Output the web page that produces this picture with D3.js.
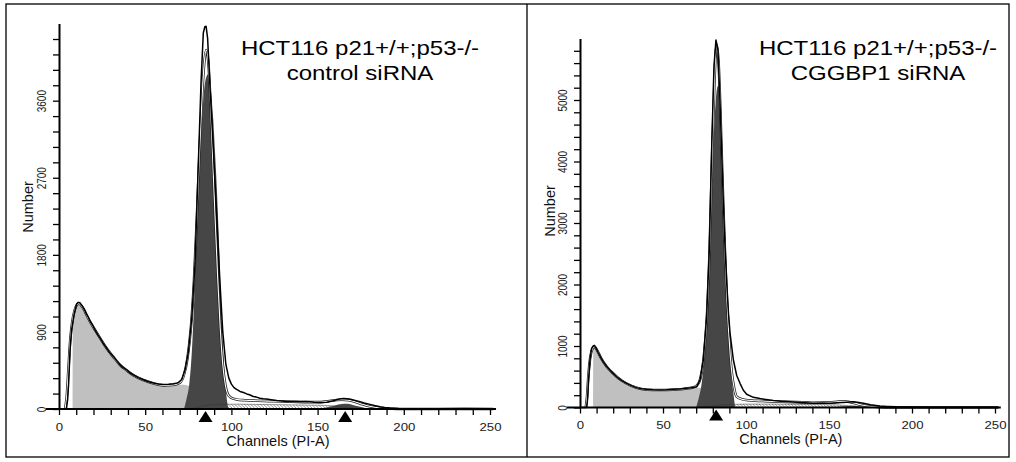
<!DOCTYPE html>
<html><head><meta charset="utf-8">
<script src="https://cdn.jsdelivr.net/npm/d3@7"></script>
<style>body{margin:0;background:#fff} svg{display:block;font-family:"Liberation Sans",Arial,Helvetica,sans-serif}</style>
</head><body>
<svg id="c" width="1016" height="462"></svg>
<script>
// ---------- tick values / labels ----------
const channelTicks = [0,10,20,30,40,50,60,70,80,90,100,110,120,130,140,150,160,170,180,190,200,210,220,230,240,250];
const channelLabels = [0,50,100,150,200,250];
const leftCountLabels = [0,900,1800,2700,3600];
const rightCountLabels = [0,1000,2000,3000,4000,5000];
const leftTitle = ["HCT116 p21+/+;p53-/-", "control siRNA"];
const rightTitle = ["HCT116 p21+/+;p53-/-", "CGGBP1 siRNA"];

// ---------- LEFT panel (control siRNA) : [channel, number] ----------
const leftRaw = [[0,0],[4.3,0],[5,110],[5.6,300],[6.4,690],[7.3,925],[8.7,1100],[10.2,1226],[11.2,1245],[12.1,1240],[13.7,1196],[15,1150],[16,1104],[17,1072],[18,1025],[19.5,978],[20.9,925],[22.5,868],[23.8,830],[25.5,771],[27.6,712],[29.5,656],[31.5,614],[33.5,562],[35.4,518],[37.3,482],[39.2,458],[41,424],[43.1,400],[46,366],[48.9,342],[51.5,321],[54.7,303],[57.5,292],[60.5,285],[63.5,289],[66.3,294],[69,305],[71.2,345],[73.1,455],[75,660],[77,1060],[78.9,1700],[80.8,2850],[82.4,3820],[83.7,4390],[84.6,4465],[85.3,4470],[86.2,4330],[87.6,3750],[89.5,3050],[91.5,2250],[93.3,1500],[95,900],[96.8,520],[98.5,360],[100,290],[101.5,250],[103,228],[105,205],[107,192],[108.9,176],[110.5,166],[112.7,146],[114.5,139],[116.6,126],[118.5,121],[120.4,117],[123,108],[126.3,98],[129,93],[132,87],[136,89],[139.8,86],[143,88],[145.6,85],[148,80],[151.4,75],[155.3,79],[159.1,97],[161,108],[163,118],[165,123],[166.9,121],[168.5,116],[170.7,105],[174.6,86],[177,70],[180.4,54],[183,40],[186.2,27],[189,18],[192,12],[197,6],[203.6,4],[220,4],[235,5],[252,4]];
const leftModel = [[3.5,0],[4.5,150],[5.5,480],[6.5,800],[7.5,990],[9,1150],[10.5,1220],[11.5,1232],[13,1205],[14.5,1160],[16,1098],[18,1020],[21,920],[24,822],[27.6,708],[31.5,608],[35.4,514],[39.2,452],[43,396],[49,338],[55,298],[60.5,276],[66,280],[70,305],[72.5,400],[74.5,590],[76.5,950],[78.3,1500],[80,2250],[81.5,3000],[83,3650],[84.3,4050],[85.4,4190],[86.5,4080],[87.7,3650],[89,3000],[90.5,2250],[92,1550],[93.5,950],[95,520],[96.5,280],[98,170],[100,130],[103,112],[108,102],[115,96],[125,90],[135,85],[145,80],[150,80],[155,88],[160,102],[164,110],[168,103],[172,82],[176,55],[180,32],[185,14],[190,5],[196,0],[252,0]];
const leftDebris = [[7.9,0],[8,1060],[9,1150],[10.2,1215],[11.2,1236],[12,1233],[13.7,1190],[15,1146],[16,1100],[17,1068],[18,1022],[19.5,975],[20.9,922],[22.5,866],[23.8,826],[25.5,770],[27.6,708],[29.5,654],[31.5,610],[33.5,560],[35.4,514],[37.3,480],[39.2,454],[41,424],[43.1,396],[46,364],[48.9,338],[51.5,318],[54.7,300],[57.5,286],[60.5,278],[63.5,276],[66.3,278],[69,282],[72,284],[75,272],[78,245],[82,190],[86,130],[90,70],[94,25],[97,0]];
const leftG1 = [[72.5,0],[74,120],[75.5,280],[77,650],[78.3,1200],[79.5,1800],[80.7,2420],[81.8,2950],[83,3400],[84.3,3750],[85.5,3880],[86.4,3910],[87.3,3860],[88.2,3700],[89.5,3374],[90.5,3000],[91.5,2600],[92.3,2200],[93,1820],[93.7,1400],[94.4,1040],[95.2,700],[95.9,455],[96.8,220],[97.5,90],[98.3,0]];
const leftS = [[76,0],[80,15],[84,35],[88,50],[95,56],[105,56],[120,52],[135,48],[150,44],[158,38],[164,25],[169,10],[172,0]];
const leftG2 = [[150,0],[155,18],[160,42],[164,58],[167,60],[170,50],[174,28],[178,10],[182,0]];
const leftMarkers = [85, 166];

// ---------- RIGHT panel (CGGBP1 siRNA) ----------
const rightRaw = [[0,0],[4,0],[4.6,150],[5,390],[6,770],[7,960],[8,1000],[8.6,1010],[9.2,990],[10,950],[11,890],[12.5,815],[14,745],[16,670],[18,610],[20,555],[22,500],[25,440],[28,393],[31,355],[34,323],[37,305],[40,295],[44,288],[48,285],[52,288],[56,295],[60,300],[64,312],[67,322],[70.3,339],[72.3,447],[74.3,772],[76.3,1477],[77.9,2561],[79.3,4187],[80.7,5542],[81.9,5976],[83.1,5813],[84.3,5000],[85.3,4200],[86.3,3374],[87.3,2650],[88.4,2019],[89.4,1550],[90.4,1206],[92.4,772],[94.4,520],[96.4,393],[98.4,280],[100.4,215],[104.4,165],[108.4,145],[112,130],[116.5,112],[121,102],[126.5,95],[133,80],[140.6,70],[146,72],[150.6,68],[155,76],[160.6,86],[164.7,95],[167,85],[170.7,68],[175,45],[180.7,24],[185,18],[190.8,12],[200.8,8],[215,6],[230,6],[252,5]];
const rightModel = [[3.5,0],[4.3,200],[5,500],[6,780],[7,920],[8,975],[8.6,995],[10,945],[12.5,812],[16,668],[20,553],[25,438],[31,352],[37,302],[44,285],[52,284],[60,296],[64,310],[68,325],[70.5,360],[72.5,470],[74.5,800],[76.5,1500],[78,2500],[79.5,4000],[81,5300],[82.3,5900],[83.5,5600],[84.5,4900],[85.5,4000],[86.5,3150],[87.5,2400],[88.5,1750],[89.5,1250],[90.5,850],[91.5,560],[92.5,370],[94.4,176],[97,140],[100,122],[110,105],[120,95],[130,88],[140,78],[150,80],[156,95],[160,98],[165,72],[169,45],[173,24],[177,12],[181,5],[186,0],[252,0]];
const rightDebris = [[7.9,0],[8,960],[8.6,1000],[9.2,990],[10,950],[11,890],[12.5,815],[14,745],[16,670],[18,610],[20,555],[22,500],[25,440],[28,390],[31,352],[34,320],[37,302],[40,292],[44,285],[48,282],[52,284],[56,290],[60,296],[64,305],[68,315],[72,320],[76,300],[80,250],[84,180],[88,100],[92,30],[95,0]];
const rightG1 = [[69.9,0],[71.5,150],[73.3,390],[75,800],[76.3,1206],[77.5,1950],[78.7,2832],[79.7,3650],[80.7,4458],[81.7,4950],[82.7,5206],[83.2,5230],[83.7,5150],[84.3,4729],[85.3,3950],[86.3,3103],[87.3,2400],[88.4,1748],[89.4,1200],[90.4,772],[91.4,450],[92.4,230],[93.4,0]];
const rightS = [[72,0],[78,20],[84,40],[90,50],[100,55],[115,55],[130,52],[145,48],[155,42],[162,30],[168,12],[172,0]];
const rightG2 = [[150,0],[155,10],[160,22],[164,28],[168,22],[172,10],[177,0]];
const rightMarkers = [82];

// ---------- panel configs (layout) ----------
const panels = [
  {id:"L", xr:[59,490], yr:[409,23.6], ymax:4500, yStep:180, yTop:4320, yLabels:leftCountLabels,
   raw:leftRaw, model:leftModel, debris:leftDebris, g1:leftG1, s:leftS, g2:leftG2, markers:leftMarkers,
   title:leftTitle, titleX:360, xLabDy:22.5, numberPos:[33,207], chanDy:37},
  {id:"R", xr:[580,995], yr:[407.5,38.5], ymax:6000, yStep:200, yTop:5800, yLabels:rightCountLabels,
   raw:rightRaw, model:rightModel, debris:rightDebris, g1:rightG1, s:rightS, g2:rightG2, markers:rightMarkers,
   title:rightTitle, titleX:878, xLabDy:22, numberPos:[555,211], chanDy:36.5}
];

const svg = d3.select("#c");
const defs = svg.append("defs");
const pat = defs.append("pattern").attr("id","hatch").attr("patternUnits","userSpaceOnUse")
  .attr("width",3.2).attr("height",3.2);
pat.append("path").attr("d","M-0.8,-0.8L4,4M-0.8,2.4L0.8,4M2.4,-0.8L4,0.8")
  .attr("stroke","#444").attr("stroke-width",0.6);

// frame
svg.append("rect").attr("x",6).attr("y",4).attr("width",1003).attr("height",453)
  .attr("fill","none").attr("stroke","#000").attr("stroke-width",1.3);
svg.append("line").attr("x1",527).attr("x2",527).attr("y1",4).attr("y2",457)
  .attr("stroke","#000").attr("stroke-width",1.3);

panels.forEach(cfg => {
  const x = d3.scaleLinear().domain([0,250]).range(cfg.xr);
  const y = d3.scaleLinear().domain([0,cfg.ymax]).range(cfg.yr);
  const g = svg.append("g");
  const area = d3.area().x(d=>x(d[0])).y0(y(0)).y1(d=>y(d[1])).curve(d3.curveMonotoneX);
  const line = d3.line().x(d=>x(d[0])).y(d=>y(d[1]));

  g.append("path").datum(cfg.debris).attr("d",area).attr("fill","#c0c0c0");
  g.append("path").datum(cfg.g1).attr("d",area).attr("fill","#464646");
  g.append("path").datum(cfg.g2).attr("d",area).attr("fill","#464646");
  g.append("path").datum(cfg.s).attr("d",area).attr("fill","url(#hatch)")
    .attr("stroke","#333").attr("stroke-width",0.5);

  const mline = d3.line().x(d=>x(d[0])).y(d=>y(d[1])).curve(d3.curveMonotoneX);
  g.append("path").datum(cfg.model).attr("d",mline).attr("fill","none")
    .attr("stroke","#222").attr("stroke-width",2.6);
  g.append("path").datum(cfg.model).attr("d",mline).attr("fill","none")
    .attr("stroke","#fff").attr("stroke-width",1.1);
  g.append("path").datum(cfg.raw).attr("d",line).attr("fill","none")
    .attr("stroke","#000").attr("stroke-width",1.5).attr("stroke-linejoin","round");

  // x axis
  const xa = g.append("g").attr("transform",`translate(0,${y(0)})`)
    .call(d3.axisBottom(x).tickValues(channelTicks).tickSize(6).tickSizeOuter(0)
      .tickFormat(d => channelLabels.includes(d) ? d : ""));
  xa.select(".domain").remove();
  xa.selectAll(".tick line").attr("stroke","#000").attr("stroke-width",1.3);
  xa.selectAll(".tick text").attr("y",cfg.xLabDy).attr("dy",null)
    .attr("transform","scale(1.2,1)").attr("font-size",11)
    .attr("font-family","Liberation Sans, Arial, sans-serif").attr("fill","#222");
  g.append("line").attr("x1",x(0)-13).attr("x2",x(253.5)).attr("y1",y(0)).attr("y2",y(0))
    .attr("stroke","#000").attr("stroke-width",1.8);

  // y axis
  const yTicks = d3.range(0, cfg.yTop + 1, cfg.yStep);
  const ya = g.append("g").attr("transform",`translate(${x(0)},0)`)
    .call(d3.axisLeft(y).tickValues(yTicks).tickSize(6).tickSizeOuter(0)
      .tickFormat(d => cfg.yLabels.includes(d) ? d : ""));
  ya.select(".domain").attr("stroke","#000").attr("stroke-width",2);
  ya.selectAll(".tick line").attr("stroke","#000").attr("stroke-width",1.3);
  ya.selectAll(".tick text").attr("x",0).attr("y",0).attr("dy",null)
    .attr("text-anchor","middle")
    .attr("transform","translate(-13,0) scale(1.2,1) rotate(-90)")
    .attr("font-size",10).attr("font-family","Liberation Sans, Arial, sans-serif").attr("fill","#222");

  // markers (triangles under baseline)
  g.selectAll("path.mk").data(cfg.markers).join("path").attr("class","mk")
    .attr("d", m => { const cx = x(m), b = y(0); return `M${cx-7},${b+13}L${cx+7},${b+13}L${cx},${b+2}Z`; })
    .attr("fill","#000");

  // axis titles
  g.append("text").attr("transform",`translate(${x(127)},${y(0)+cfg.chanDy})`)
    .attr("text-anchor","middle").attr("font-size",14.5).attr("fill","#111").text("Channels (PI-A)");
  g.append("text").attr("transform",`translate(${cfg.numberPos[0]},${cfg.numberPos[1]}) rotate(-90)`)
    .attr("text-anchor","middle").attr("font-size",14.5).attr("fill","#111").text("Number");

  // panel title
  cfg.title.forEach((t,i) => {
    g.append("text").attr("transform",`translate(${cfg.titleX},${55 + i*25}) scale(1.2,1)`)
      .attr("text-anchor","middle").attr("font-size",20).attr("fill","#000").text(t);
  });
});
</script>
</body></html>
